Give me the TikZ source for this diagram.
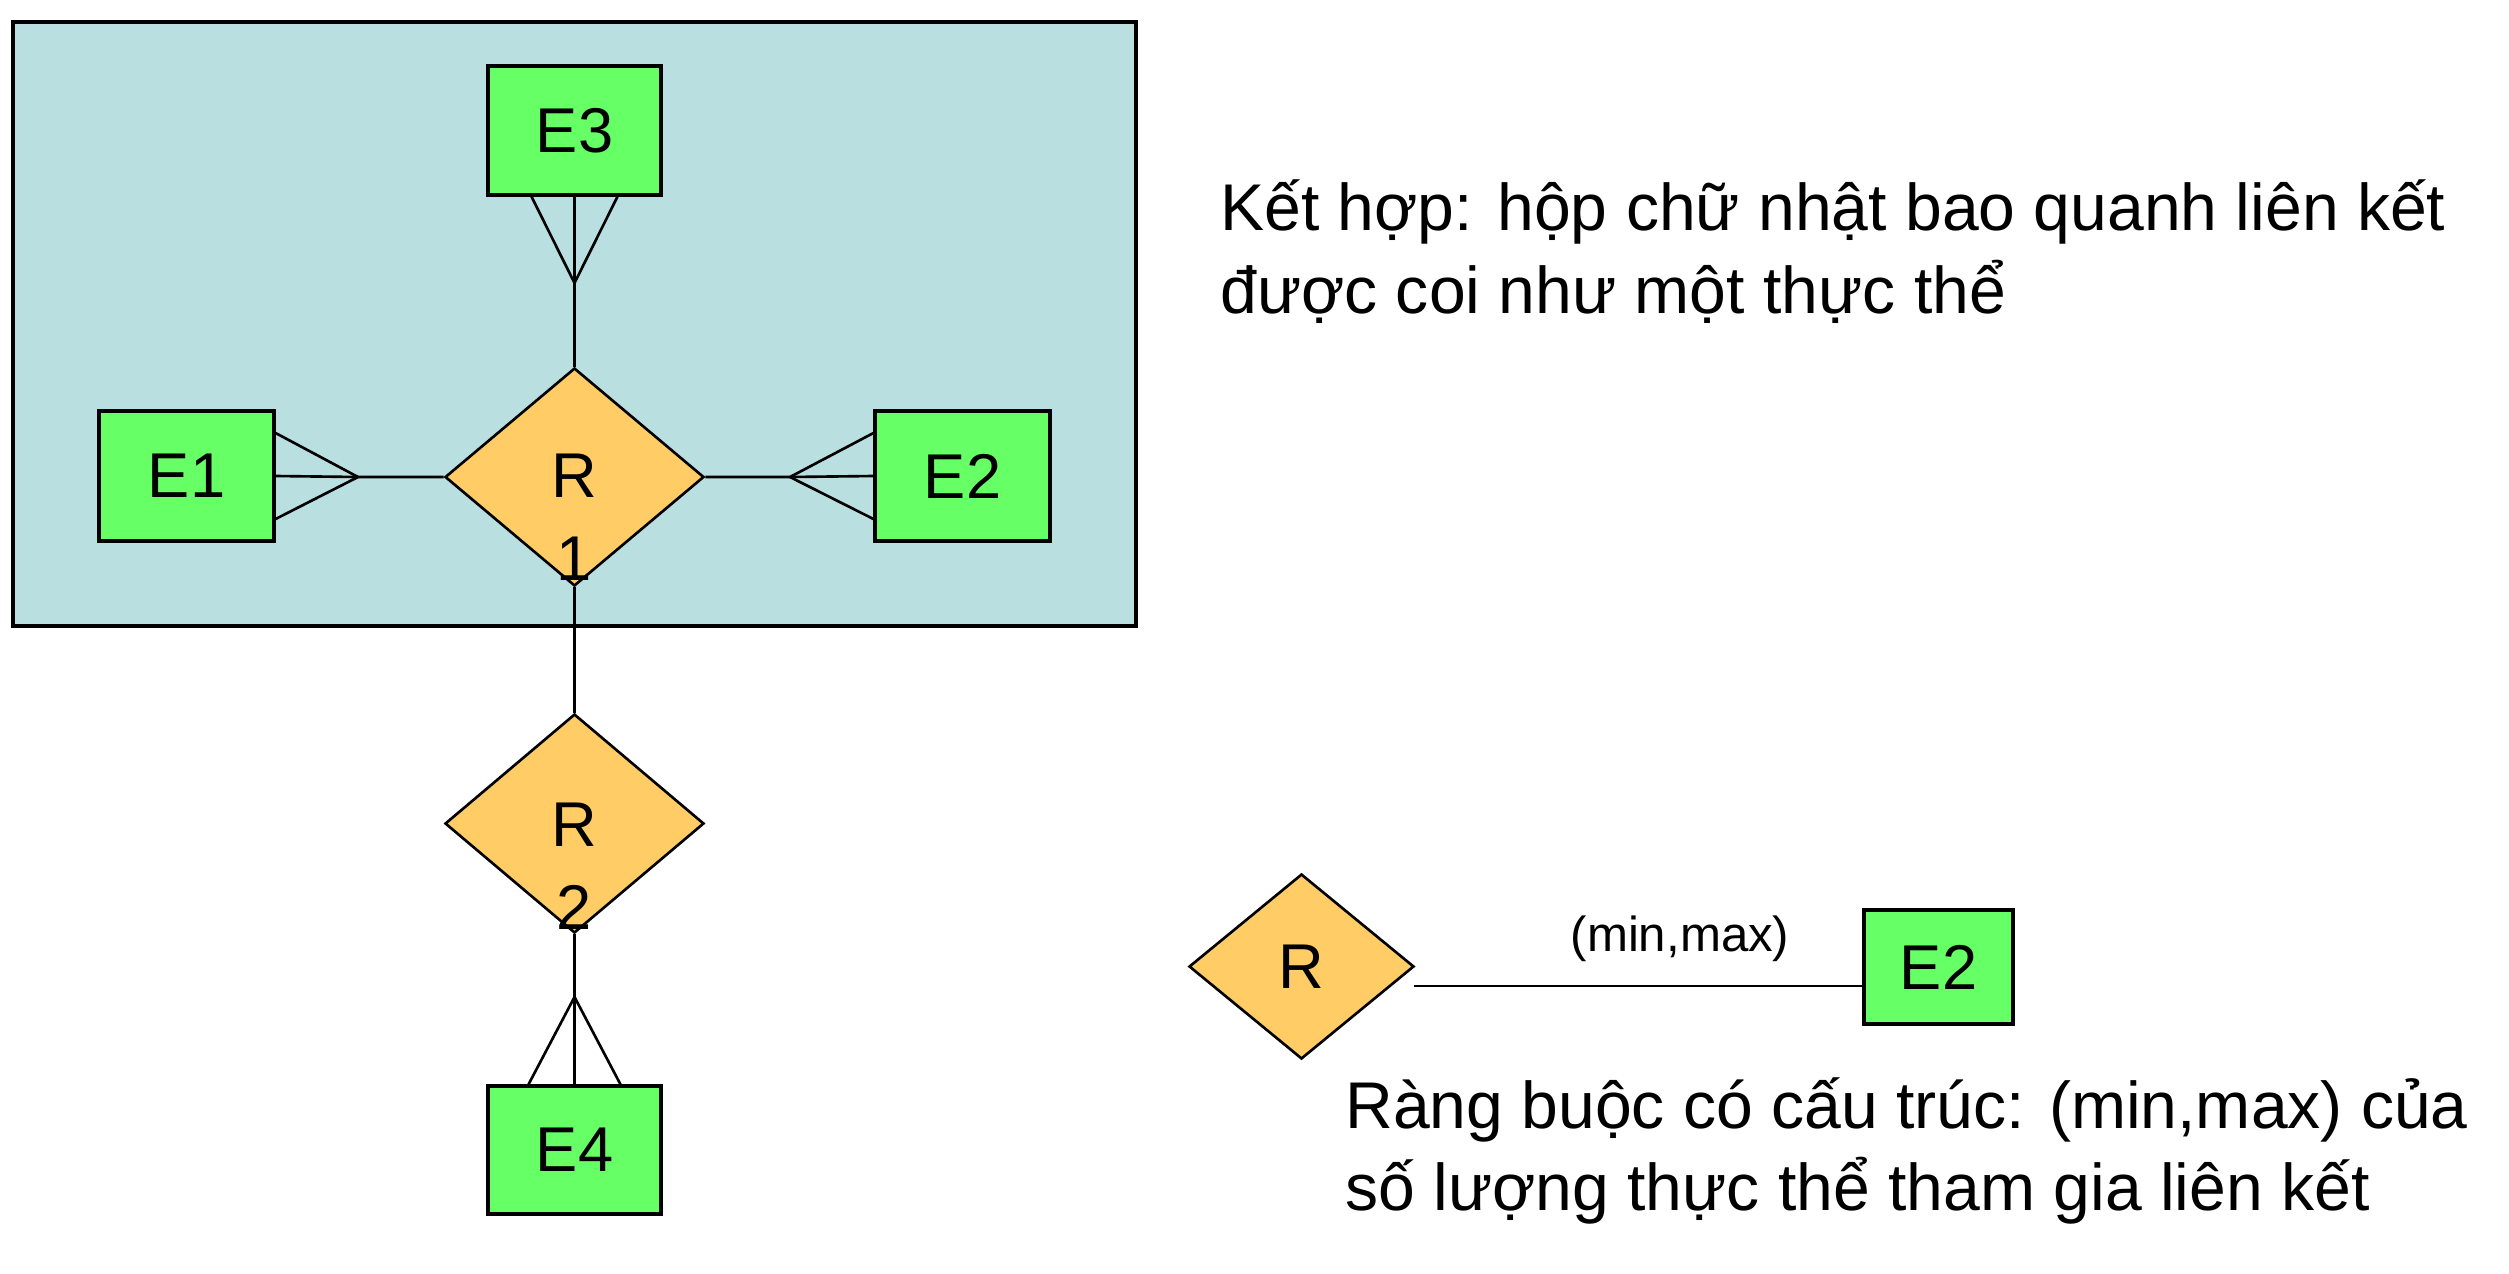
\documentclass[tikz,border=0pt]{standalone}
\usepackage{fontspec}
\setmainfont{Liberation Sans}
\usetikzlibrary{shapes.geometric}
\definecolor{aggfill}{RGB}{186,223,225}
\definecolor{entfill}{RGB}{102,255,102}
\definecolor{relfill}{RGB}{255,204,102}
\def\bigfont{\fontsize{18}{23.5}\selectfont}
\def\notefont{\fontsize{18.8}{23.5}\selectfont}
\def\crow{.43cm}

\begin{document}
\begin{tikzpicture}[line width=.75pt,
		entity/.style={draw,fill=entfill,line width=.9pt,inner sep=0pt,font=\bigfont},
		rel/.style={diamond,draw,fill=relfill,inner sep=0pt,font=\bigfont},
		note/.style={align=left,inner sep=0pt,font=\notefont}]
			\useasboundingbox (0,0) rectangle (25.09,-12.73);
			\draw[fill=aggfill,line width=.9pt] (0.13,-0.22) rectangle (11.36,-6.26);
			\node[entity,minimum width=1.73cm,minimum height=1.29cm] (e3) at (5.745,-1.305) {E3};
			\node[entity,minimum width=1.75cm,minimum height=1.30cm] (e1) at (1.865,-4.76) {E1};
			\node[entity,minimum width=1.75cm,minimum height=1.30cm] (e2) at (9.625,-4.76) {E2};
			\node[rel,minimum width=2.59cm,minimum height=2.18cm] (r1) at (5.745,-4.77) {};
			\node[align=center,font=\bigfont] (r1txt) at (5.745,-5.17) {R\\1};
			\node[rel,minimum width=2.59cm,minimum height=2.19cm] (r2) at (5.745,-8.235) {};
			\node[align=center,font=\bigfont] (r2txt) at (5.745,-8.66) {R\\2};
			\node[entity,minimum width=1.73cm,minimum height=1.28cm] (e4) at (5.745,-11.50) {E4};
			\coordinate (c3) at (5.745,-2.83);
			\coordinate (c1) at (3.58,-4.77);
			\coordinate (c2) at (7.90,-4.77);
			\coordinate (c4) at (5.745,-9.97);
			\draw (e3.south) -- (c3) -- (r1.north);
			\draw ([xshift=-\crow]e3.south) -- (c3) -- ([xshift=\crow]e3.south);
			\draw (e1.east) -- (c1) -- (r1.west);
			\draw ([yshift=\crow]e1.east) -- (c1) -- ([yshift=-\crow]e1.east);
			\draw (e2.west) -- (c2) -- (r1.east);
			\draw ([yshift=\crow]e2.west) -- (c2) -- ([yshift=-\crow]e2.west);
			\draw (r1.south) -- (r2.north);
			\draw (r2.south) -- (c4) -- (e4.north);
			\draw ([xshift=-.46cm]e4.north) -- (c4) -- ([xshift=.46cm]e4.north);
			\node[rel,minimum width=2.25cm,minimum height=1.85cm] (rs) at (13.015,-9.665) {R};
			\node[entity,minimum width=1.49cm,minimum height=1.14cm] (e2s) at (19.385,-9.67) {E2};
			\coordinate (rsend) at (14.14,-9.86);
			\draw (rsend) -- (rsend -| e2s.west);
			\node[font=\fontsize{14}{17}\selectfont] (minmax) at (16.80,-9.39) {(min,max)};
			\node[note,anchor=west] (agg) at (12.19,-2.515) {Kết hợp: hộp chữ nhật bao quanh liên kết\\được coi như một thực thể};
			\node[note,anchor=west] (card) at (13.44,-11.51) {Ràng buộc có cấu trúc: (min,max) của\\số lượng thực thể tham gia liên kết};
		\end{tikzpicture}
\end{document}
